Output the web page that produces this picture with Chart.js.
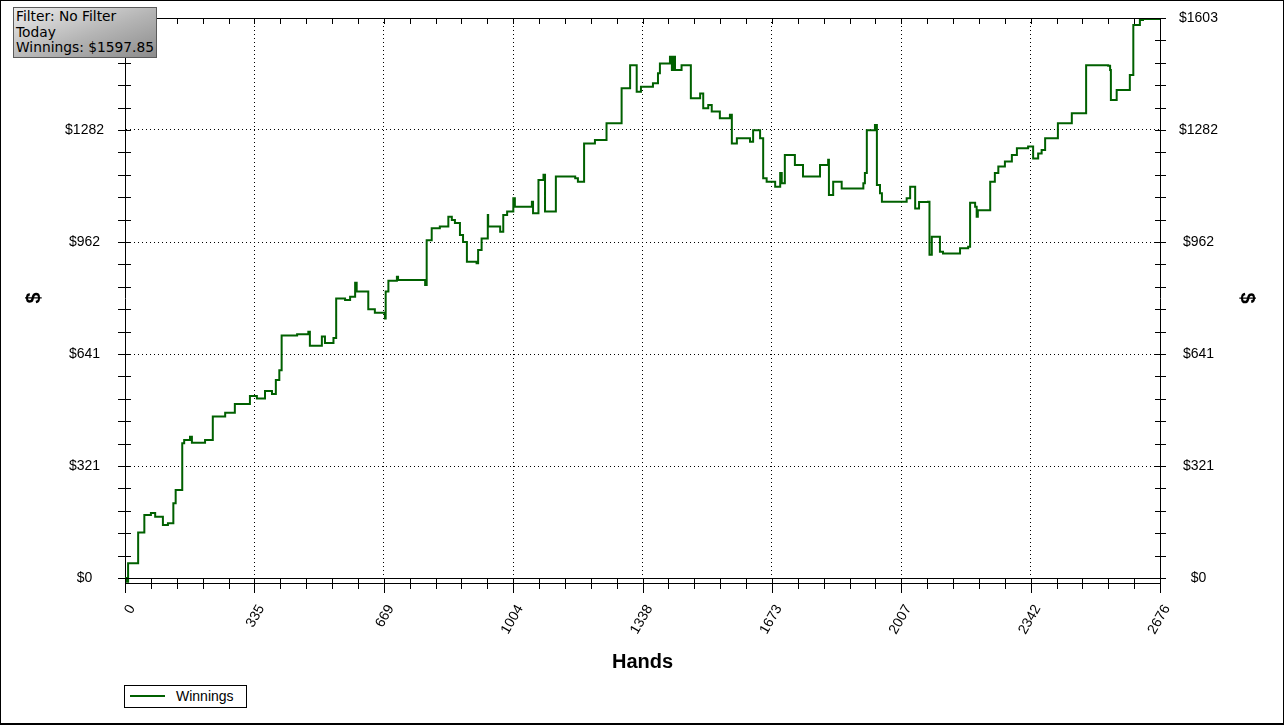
<!DOCTYPE html>
<html>
<head>
<meta charset="utf-8">
<title>Winnings</title>
<script src="https://cdn.jsdelivr.net/npm/chart.js@4.4.1/dist/chart.umd.min.js"></script>
<style>
  html, body { margin: 0; padding: 0; background: #fff; }
  #wrap { position: relative; width: 1284px; height: 726px; }
  #frame { position: absolute; left: 0; top: 0; width: 1284px; height: 725px; box-sizing: border-box;
           border: 1px solid #000; border-bottom-width: 2px; pointer-events: none; }
  #info { position: absolute; left: 13px; top: 7px; width: 144px; height: 51px; box-sizing: border-box;
          border: 1px solid #5a5a5a; background: linear-gradient(160deg, #ececec 0%, #b4b4b4 55%, #8c8c8c 100%);
          font: 13.8px "DejaVu Sans", sans-serif; line-height: 15.6px; color: #000; padding: 1px 0 0 2px; white-space: nowrap; }
  #legend { position: absolute; left: 124px; top: 685px; width: 123px; height: 23px; box-sizing: border-box;
            border: 1px solid #000; background: #fff; font: 14px "Liberation Sans", Arial, sans-serif; color: #000; }
  #legend .mark { position: absolute; left: 5px; top: 9px; width: 35px; height: 2px; }
  #legend .txt { position: absolute; left: 51px; top: 2px; }
</style>
</head>
<body>
<div id="wrap">
  <canvas id="myCanvas"></canvas>
  <div id="info">Filter: No Filter<br>Today<br>Winnings: $1597.85</div>
  <div id="legend"></div>
  <div id="frame"></div>
</div>
<script>
'use strict';

// hands played where the running total changes, and the new total
const hands = [0, 3, 8, 34, 50, 67, 78, 98, 111, 125, 131, 148, 153, 168, 173, 207, 227, 259, 284, 323,
  341, 362, 380, 390, 399, 405, 445, 474, 478, 509, 517, 539, 546, 569, 582, 595, 599, 629, 646, 672,
  674, 681, 703, 706, 776, 780, 793, 814, 836, 845, 853, 866, 874, 884, 909, 913, 922, 938, 939, 970,
  978, 988, 1004, 1008, 1052, 1055, 1069, 1082, 1086, 1114, 1164, 1171, 1187, 1215, 1245, 1284, 1306, 1319, 1323, 1334,
  1365, 1378, 1383, 1409, 1414, 1418, 1422, 1439, 1463, 1487, 1495, 1508, 1517, 1538, 1564, 1569, 1582, 1616, 1624, 1642,
  1650, 1659, 1681, 1694, 1698, 1706, 1732, 1753, 1797, 1818, 1820, 1831, 1853, 1909, 1913, 1918, 1939, 1944, 1952, 1957,
  2021, 2030, 2043, 2053, 2076, 2080, 2086, 2103, 2107, 2115, 2141, 2159, 2180, 2185, 2198, 2202, 2205, 2237, 2249, 2258,
  2275, 2293, 2306, 2335, 2348, 2361, 2370, 2379, 2412, 2448, 2485, 2542, 2547, 2549, 2564, 2598, 2607, 2624, 2632, 2671,
  2676];
const winnings = [0, -11, 42, 130, 180, 186, 175, 152, 157, 214, 252, 386, 395, 404, 387, 395, 462, 473, 498, 521,
  514, 535, 527, 567, 595, 694, 698, 705, 665, 691, 673, 687, 800, 796, 805, 845, 820, 769, 759, 743,
  820, 851, 862, 853, 839, 967, 1001, 1006, 1034, 1025, 1016, 982, 962, 905, 901, 939, 972, 1039, 1006, 991,
  1039, 1049, 1087, 1063, 1077, 1044, 1139, 1154, 1049, 1149, 1144, 1134, 1244, 1254, 1302, 1402, 1468, 1468, 1392, 1406,
  1416, 1445, 1473, 1492, 1454, 1492, 1454, 1468, 1373, 1387, 1345, 1354, 1335, 1316, 1326, 1244, 1259, 1249, 1282, 1259,
  1144, 1134, 1120, 1159, 1130, 1211, 1182, 1149, 1182, 1197, 1096, 1134, 1115, 1130, 1159, 1282, 1297, 1125, 1101, 1077,
  1087, 1120, 1058, 1076, 1077, 925, 977, 977, 934, 929, 929, 944, 948, 1074, 1063, 1034, 1053, 1134, 1159, 1178,
  1192, 1211, 1230, 1235, 1201, 1215, 1225, 1259, 1302, 1330, 1468, 1466, 1454, 1368, 1397, 1440, 1583, 1597, 1600, 1600,
  1597.85];

const xTickLabels = ['0', '335', '669', '1004', '1338', '1673', '2007', '2342', '2676'];
const yTickLabels = ['$0', '$321', '$641', '$962', '$1282', '$1603'];
const maxHands = 2676;
const maxWinnings = 1603;
const minorPerMajor = 5;

const lineColor = '#006000';
const tickFont = { family: '"Liberation Sans", Arial, sans-serif', size: 14 };
const titleFont = { family: '"Liberation Sans", Arial, sans-serif', size: 20, weight: 'bold' };

function isMajor(i) {
  return i % minorPerMajor === 0;
}

function buildTicks(max, majorCount) {
  const count = majorCount * minorPerMajor;
  return function (scale) {
    let list = [];
    for (let i = 0; i <= count; i++) {
      list.push({ value: i * max / count });
    }
    scale.ticks = list;
  };
}

// grid only on inner major ticks, dotted
function innerGrid(last) {
  return function (ctx) {
    let i = ctx.index;
    if (isMajor(i) && i > 0 && i < last) {
      return '#000';
    }
    return 'rgba(0,0,0,0)';
  };
}

// tick marks that cross the frame, drawn from the scales
const axisMarks = {
  id: 'axisMarks',
  afterDraw(chart) {
    const ctx = chart.ctx;
    const area = chart.chartArea;
    const xs = chart.scales.x;
    const ys = chart.scales.y;
    ctx.save();
    ctx.strokeStyle = '#000';
    ctx.lineWidth = 1;
    ctx.beginPath();
    ctx.moveTo(area.left, area.top + 0.5);
    ctx.lineTo(area.right, area.top + 0.5);
    ctx.moveTo(area.left, Math.round(area.bottom) + 5.5);
    ctx.lineTo(area.right, Math.round(area.bottom) + 5.5);
    xs.ticks.forEach(function (t, i) {
      let px = Math.round(xs.getPixelForValue(t.value)) + 0.5;
      ctx.moveTo(px, area.bottom);
      ctx.lineTo(px, area.bottom + (isMajor(i) ? 15 : 11));
      ctx.moveTo(px, area.top);
      ctx.lineTo(px, area.top + 6);
    });
    ys.ticks.forEach(function (t) {
      let py = Math.round(ys.getPixelForValue(t.value)) + 0.5;
      ctx.moveTo(area.left - 7, py);
      ctx.lineTo(area.left + 6, py);
      ctx.moveTo(area.right - 5, py);
      ctx.lineTo(area.right + 6, py);
    });
    ctx.stroke();
    ctx.restore();
  }
};

let points = [];
for (let i = 0; i < hands.length; i++) {
  points.push({ x: hands[i], y: winnings[i] });
}

const data = {
  datasets: [{
    label: 'Winnings',
    data: points,
    borderColor: lineColor,
    backgroundColor: lineColor,
    borderWidth: 2,
    pointRadius: 0,
    stepped: true,
    clip: 8
  }]
};

function noOverflow(scale) {
  scale.paddingLeft = 0;
  scale.paddingRight = 0;
  scale.paddingTop = 0;
  scale.paddingBottom = 0;
}

const yAxis = function (position, labelPad, titlePad, width) {
  return {
    type: 'linear',
    position: position,
    min: 0,
    max: maxWinnings,
    afterBuildTicks: buildTicks(maxWinnings, yTickLabels.length - 1),
    afterFit: function (scale) {
      scale.width = width;
      noOverflow(scale);
    },
    ticks: {
      autoSkip: false,
      crossAlign: 'center',
      padding: labelPad,
      color: '#000',
      font: tickFont,
      callback: function (v, i) { return isMajor(i) ? yTickLabels[i / minorPerMajor] : ''; }
    },
    grid: {
      drawOnChartArea: position === 'left',
      color: innerGrid(25),
      tickColor: 'rgba(0,0,0,0)',
      tickLength: 5
    },
    border: { display: true, color: '#000', width: 1, dash: [1, 3] },
    title: { display: true, text: '$', color: '#000', font: titleFont, padding: { top: titlePad, bottom: 0 } }
  };
};

const config = {
  type: 'line',
  data: data,
  plugins: [axisMarks],
  options: {
    responsive: true,
    maintainAspectRatio: false,
    animation: false,
    layout: { padding: { left: 0, right: 0, top: 18, bottom: 0 } },
    plugins: {
      legend: { display: false },
      tooltip: { enabled: false }
    },
    scales: {
      x: {
        type: 'linear',
        min: 0,
        max: maxHands,
        afterBuildTicks: buildTicks(maxHands, xTickLabels.length - 1),
        afterFit: function (scale) {
          scale.height = 148;
          noOverflow(scale);
        },
        ticks: {
          autoSkip: false,
          minRotation: 60,
          maxRotation: 60,
          labelOffset: 7,
          padding: 13,
          color: '#000',
          font: tickFont,
          callback: function (v, i) { return isMajor(i) ? xTickLabels[i / minorPerMajor] : ''; }
        },
        grid: {
          color: innerGrid(40),
          tickColor: 'rgba(0,0,0,0)',
          tickLength: 11
        },
        border: { display: true, color: '#000', width: 1, dash: [1, 3] },
        title: { display: true, text: 'Hands', color: '#000', font: titleFont, padding: { top: 0, bottom: 52 } }
      },
      y: yAxis('left', 16, 22, 125),
      y2: yAxis('right', 14, 25, 124)
    }
  }
};

const myChart = new Chart(document.getElementById('myCanvas'), config);

// legend built from the dataset
const legendBox = document.getElementById('legend');
myChart.data.datasets.forEach(function (ds) {
  let mark = document.createElement('span');
  mark.className = 'mark';
  mark.style.background = ds.borderColor;
  let txt = document.createElement('span');
  txt.className = 'txt';
  txt.textContent = ds.label;
  legendBox.appendChild(mark);
  legendBox.appendChild(txt);
});
</script>
</body>
</html>
